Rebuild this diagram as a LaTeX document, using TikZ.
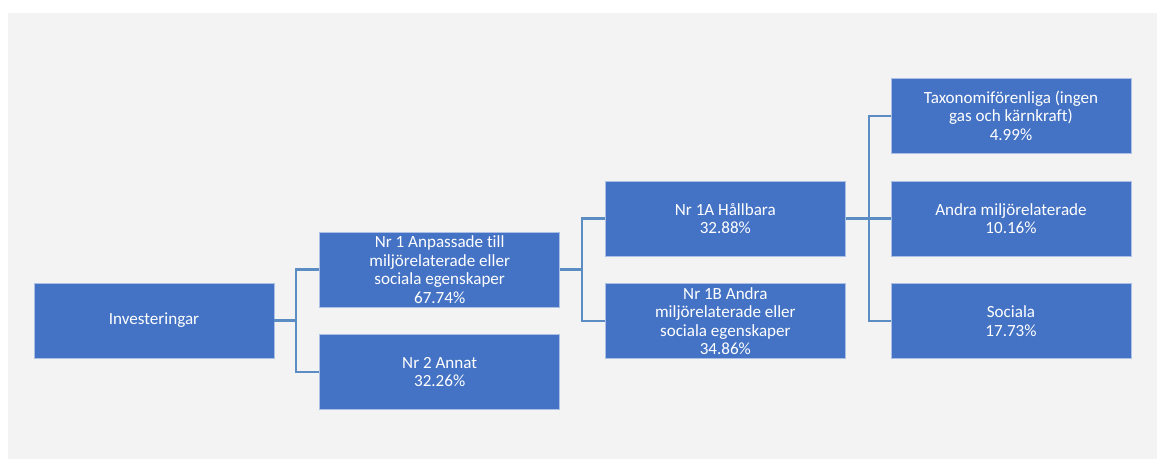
\documentclass[tikz,border=0pt]{standalone}
\usepackage{fontspec}
\setmainfont[Ligatures=NoCommon]{Carlito}
\usetikzlibrary{positioning}
\definecolor{Box}{RGB}{68,114,196}
\definecolor{Link}{RGB}{91,140,196}
\definecolor{Back}{RGB}{243,243,243}

\begin{document}
\begin{tikzpicture}[x=.75pt,y=-.75pt,node distance=20.25pt and 33.75pt,
 b/.style={draw=white!55!Box,line width=.5pt,fill=Box,text=white,minimum width=180pt,minimum height=56.25pt,align=center,inner sep=1pt,font=\fontsize{12.8}{13.9}\selectfont},
 c/.style={Link,line width=1.6pt}]
\fill[white] (0,0) rectangle (1157,459);
\fill[Back] (8,13) rectangle (1157,459);
\node[b] (inv) at (154,320.5) {Investeringar};
\node[b,right=of inv,yshift=38.25pt] (n1) {Nr 1 Anpassade till\\miljörelaterade eller\\sociala egenskaper\\67.74\%};
\node[b,below=of n1] (n2) {Nr 2 Annat\\32.26\%};
\node[b,right=of n1,yshift=38.25pt] (h) {Nr 1A Hållbara\\32.88\%};
\node[b,below=of h] (o) {Nr 1B Andra\\miljörelaterade eller\\sociala egenskaper\\34.86\%};
\node[b,right=of h] (am) {Andra miljörelaterade\\10.16\%};
\node[b,above=of am] (tax) {Taxonomiförenliga (ingen\\gas och kärnkraft)\\4.99\%};
\node[b,below=of am] (soc) {Sociala\\17.73\%};
\draw[c] (inv.east) -- ++(16.5pt,0) |- (n1.west);
\draw[c] (inv.east) -- ++(16.5pt,0) |- (n2.west);
\draw[c] (n1.east) -- ++(16.5pt,0) |- (h.west);
\draw[c] (n1.east) -- ++(16.5pt,0) |- (o.west);
\draw[c] (h.east) -- ++(17.25pt,0) |- (tax.west);
\draw[c] (h.east) -- (am.west);
\draw[c] (h.east) -- ++(17.25pt,0) |- (soc.west);
\end{tikzpicture}
\end{document}
